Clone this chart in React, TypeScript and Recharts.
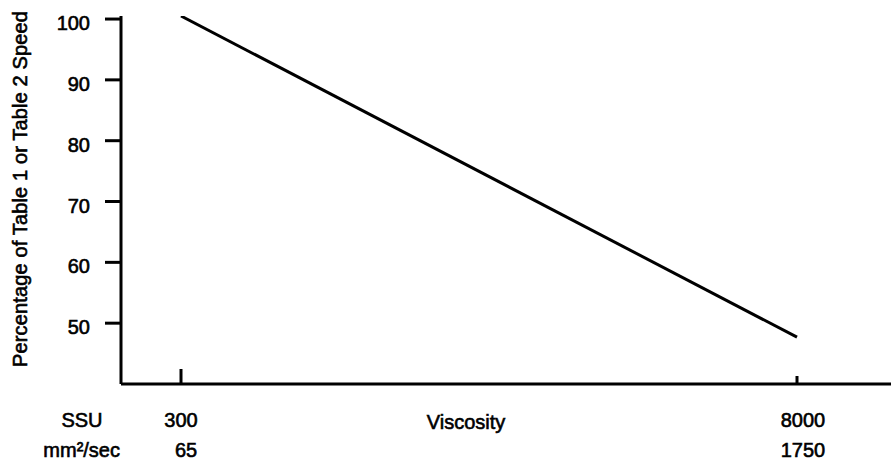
import React from 'react';
import { LineChart, Line, XAxis, YAxis, Label } from 'recharts';

// viscosity points (SSU and mm²/sec are the same points on two scales)
const ssu = [300, 8000];
const mm2sec = [65, 1750];
const speedPct = [100.5, 47.7];
const yTicks = [50, 60, 70, 80, 90, 100];

const data = ssu.map((s, i) => ({ ssu: s, mm2: mm2sec[i], pct: speedPct[i] }));

const FONT = '"Liberation Sans", Arial, Helvetica, sans-serif';
const TICK_LEN = [15, 8];
const TICK_DX = [0, 6];
// scanned text looks heavier than regular weight
const INK = { fill: '#000', stroke: '#000', strokeWidth: 0.6 };

const ViscosityTick = (props: any) => {
  const { x, y, payload, index } = props;
  const i = ssu.indexOf(payload.value);
  return (
    <g>
      <line x1={x} y1={y} x2={x} y2={y - TICK_LEN[index]} stroke="#000" strokeWidth={3} />
      <text x={x + TICK_DX[index]} y={y + 43} textAnchor="middle" fontSize={20} fontFamily={FONT} {...INK}>
        {payload.value}
      </text>
      <text x={x + TICK_DX[index] + (index === 0 ? 5 : 0)} y={y + 73} textAnchor="middle" fontSize={20} fontFamily={FONT} {...INK}>
        {mm2sec[i]}
      </text>
    </g>
  );
};

const PctTick = (props: any) => {
  const { x, y, payload } = props;
  return (
    <text x={x} y={y} dy={11} textAnchor="end" fontSize={20} fontFamily={FONT} {...INK}>
      {payload.value}
    </text>
  );
};

const XLabels = () => (
  <g fontFamily={FONT} fontSize={20} {...INK}>
    <text x={82} y={427} textAnchor="middle">SSU</text>
    <text x={120} y={457} textAnchor="end">mm²/sec</text>
    <text x={466} y={429} textAnchor="middle">Viscosity</text>
  </g>
);

export default function App() {
  return (
    <div style={{ position: 'absolute', left: 0, top: 0, width: 891, height: 463, background: '#fff' }}>
      <LineChart width={891} height={463} data={data} margin={{ top: 16, right: 0, bottom: 0, left: 0 }}>
        <XAxis
          dataKey="ssu"
          type="number"
          domain={[-450, 9175]}
          ticks={ssu}
          allowDataOverflow
          tick={<ViscosityTick />}
          tickLine={false}
          tickSize={0}
          tickMargin={0}
          height={79}
          axisLine={{ stroke: '#000', strokeWidth: 3 }}
        >
          <Label content={() => <XLabels />} />
        </XAxis>
        <YAxis
          type="number"
          domain={[40, 100.5]}
          ticks={yTicks}
          allowDataOverflow
          width={121}
          tick={<PctTick />}
          tickSize={16}
          tickMargin={15}
          tickLine={{ stroke: '#000', strokeWidth: 3 }}
          axisLine={{ stroke: '#000', strokeWidth: 3 }}
        >
          <Label
            content={() => (
              <text
                x={27}
                y={189}
                transform="rotate(-90, 27, 189)"
                textAnchor="middle"
                fontSize={20}
                fontFamily={FONT}
                textLength={356}
                {...INK}
              >
                Percentage of Table 1 or Table 2 Speed
              </text>
            )}
          />
        </YAxis>
        <Line
          type="linear"
          dataKey="pct"
          stroke="#000"
          strokeWidth={3}
          dot={false}
          isAnimationActive={false}
        />
      </LineChart>
    </div>
  );
}
